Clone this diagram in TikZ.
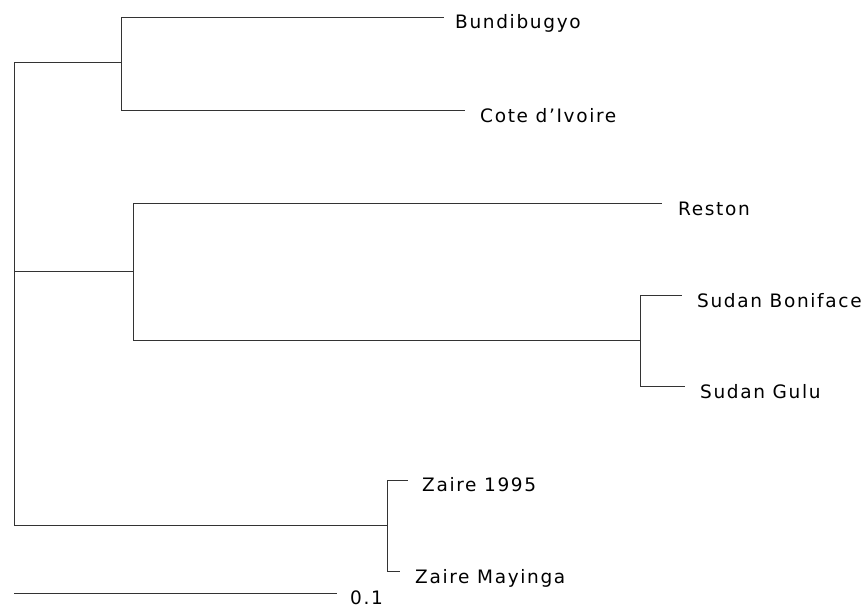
\documentclass[tikz,border=0pt]{standalone}
\usepackage{fontspec}
\newfontfamily\leaffont[LetterSpace=9]{DejaVu Sans}
\begin{document}
\begin{tikzpicture}[x=1pt,y=-1pt,
    branch/.style={draw=black!80,line width=0.9pt},
    leaf/.style={anchor=base west,inner sep=0pt,font=\leaffont\fontsize{18.5}{22}\selectfont,text=black}]
\useasboundingbox (0,0) rectangle (868,610);

% internal nodes of the tree
\coordinate (R) at (14,271);
\coordinate (A) at (121,62);
\coordinate (B) at (133,271);
\coordinate (C) at (640,340);
\coordinate (D) at (387,525);

% branch tips
\coordinate (tBun) at (444,17);
\coordinate (tCote) at (465,110);
\coordinate (tRes) at (662,203);
\coordinate (tSB) at (682,295);
\coordinate (tSG) at (685,386);
\coordinate (tZ95) at (408,480);
\coordinate (tZM) at (400,571);

% scale bar ends
\coordinate (s0) at (14,593);
\coordinate (s1) at (337,593);

% leaf labels
\node[leaf] (bun) at (455,29) {Bundibugyo};
\node[leaf] (cote) at (480,122) {Cote d’Ivoire};
\node[leaf] (res) at (678,215) {Reston};
\node[leaf] (sb) at (697,307) {Sudan Boniface};
\node[leaf] (sg) at (700,398) {Sudan Gulu};
\node[leaf] (z95) at (422,491) {Zaire 1995};
\node[leaf] (zm) at (415,583) {Zaire Mayinga};
\node[leaf] (scale) at (350,604) {0.1};

% branches
\path[branch] (R) |- (A);
\path[branch] (R) |- (D);
\path[branch] (R) -- (B);
\path[branch] (A) |- (tBun);
\path[branch] (A) |- (tCote);
\path[branch] (B) |- (tRes);
\path[branch] (B) |- (C);
\path[branch] (C) |- (tSB);
\path[branch] (C) |- (tSG);
\path[branch] (D) |- (tZ95);
\path[branch] (D) |- (tZM);
\path[branch] (s0) -- (s1);
\end{tikzpicture}
\end{document}
